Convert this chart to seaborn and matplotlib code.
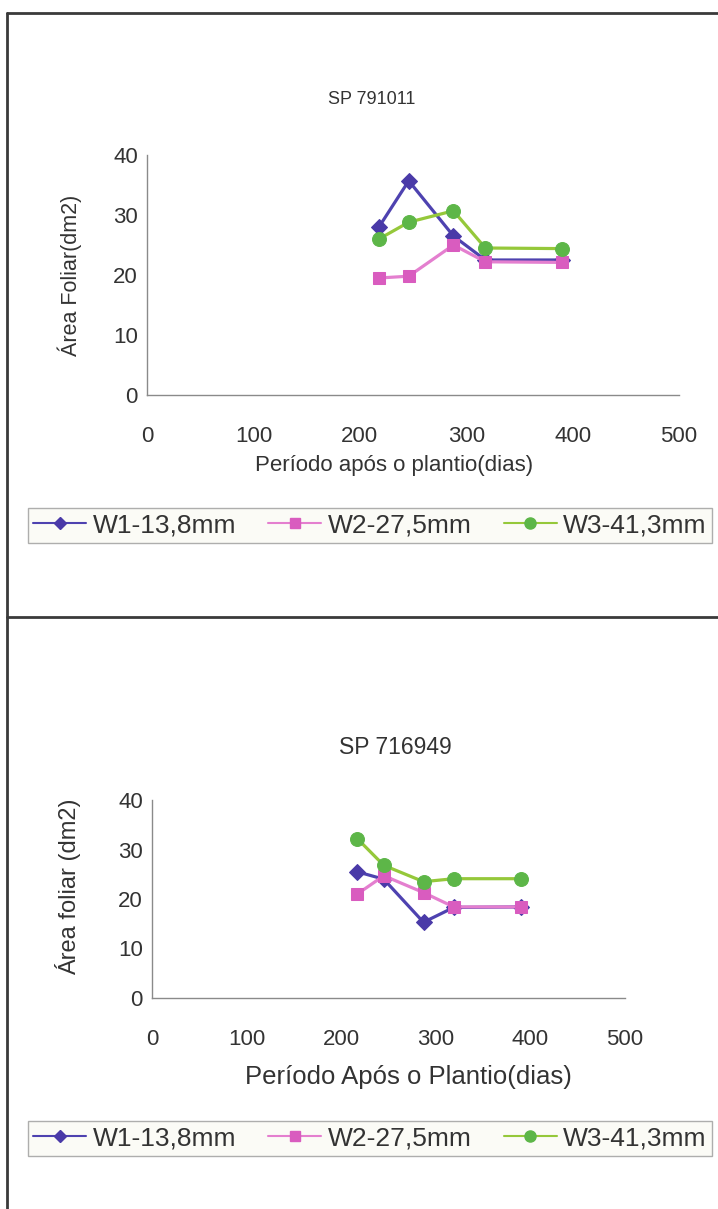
import matplotlib
matplotlib.use("Agg")
import matplotlib.pyplot as plt
import seaborn as sns
import pandas as pd
from matplotlib.lines import Line2D

# ---------------- data ----------------
series_names = ["W1-13,8mm", "W2-27,5mm", "W3-41,3mm"]

days_791011 = [218, 246, 288, 318, 390]
w1_791011 = [28.0, 35.7, 26.5, 22.5, 22.5]
w2_791011 = [19.5, 19.8, 25.0, 22.2, 22.1]
w3_791011 = [26.0, 28.8, 30.7, 24.5, 24.4]

days_716949 = [217, 245, 287, 319, 390]
w1_716949 = [25.5, 24.0, 15.3, 18.3, 18.4]
w2_716949 = [21.0, 24.7, 21.3, 18.4, 18.4]
w3_716949 = [32.2, 26.8, 23.5, 24.1, 24.1]

x_ticks = [0, 100, 200, 300, 400, 500]
y_ticks = [0, 10, 20, 30, 40]

# ---------------- style ----------------
sns.set_theme(style="white")
plt.rcParams["font.family"] = ["Liberation Sans", "DejaVu Sans"]

line_colors = {"W1-13,8mm": "#4e42b0", "W2-27,5mm": "#e47fcf", "W3-41,3mm": "#95c83a"}
marker_colors = {"W1-13,8mm": "#4a3aa8", "W2-27,5mm": "#d95cbf", "W3-41,3mm": "#5db648"}
markers = {"W1-13,8mm": "D", "W2-27,5mm": "s", "W3-41,3mm": "o"}
msizes = {"W1-13,8mm": 8.5, "W2-27,5mm": 9, "W3-41,3mm": 10}

W, H = 718, 1209
fig = plt.figure(figsize=(W / 100, H / 100), dpi=100)
fig.patch.set_facecolor("white")
TXT = "#333333"


def rect(l, t, r, b):
    return [l / W, 1 - b / H, (r - l) / W, (b - t) / H]


def make_df(days, w1, w2, w3):
    rows = []
    for name, vals in zip(series_names, [w1, w2, w3]):
        for d, v in zip(days, vals):
            rows.append({"Dias": d, "Area": v, "Serie": name})
    return pd.DataFrame(rows)


def draw_panel(ax, df, ylabel, xlabel, ylab_pos, xlab_pos, ylab_fs, xlab_fs):
    for name in series_names:
        sub = df[df["Serie"] == name]
        sns.lineplot(data=sub, x="Dias", y="Area", ax=ax, color=line_colors[name],
                     linewidth=2.3, marker=markers[name], markersize=msizes[name],
                     markerfacecolor=marker_colors[name], markeredgecolor=marker_colors[name],
                     legend=False, sort=False)
    ax.set_xlim(0, 500)
    ax.set_ylim(0, 40)
    ax.set_xticks(x_ticks)
    ax.set_yticks(y_ticks)
    sns.despine(ax=ax)
    for s in ["left", "bottom"]:
        ax.spines[s].set_color("#8a8a8a")
        ax.spines[s].set_linewidth(1.0)
    ax.tick_params(axis="both", direction="out", length=4, width=1, color="#8a8a8a",
                   labelsize=16, labelcolor=TXT)
    ax.tick_params(axis="x", pad=18)
    ax.tick_params(axis="y", pad=2.5)
    ax.set_ylabel(ylabel, fontsize=ylab_fs, color=TXT)
    ax.set_xlabel(xlabel, fontsize=xlab_fs, color=TXT)
    ax.yaxis.set_label_coords(*ylab_pos)
    ax.xaxis.set_label_coords(*xlab_pos)
    ax.yaxis.label.set_va("center")
    ax.yaxis.label.set_ha("center")
    ax.xaxis.label.set_va("center")
    ax.xaxis.label.set_ha("center")
    ax.grid(False)


def add_legend(l, t, r, b):
    handles = [Line2D([0], [0], color=line_colors[n], lw=1.5, marker=markers[n],
                      markersize=msizes[n] - 2, markerfacecolor=marker_colors[n],
                      markeredgecolor=marker_colors[n]) for n in series_names]
    leg = fig.legend(handles, series_names, loc="lower left",
                     bbox_to_anchor=(l / W, 1 - b / H, (r - l) / W, (b - t) / H),
                     mode="expand", ncol=3, frameon=True, fancybox=False, fontsize=19,
                     handlelength=2.0, handletextpad=0.25, borderaxespad=0, borderpad=0.2,
                     columnspacing=0.5)
    leg.get_frame().set_edgecolor("#9a9a9a")
    leg.get_frame().set_facecolor("#fbfbf4")
    leg.get_frame().set_linewidth(1.0)
    for t in leg.get_texts():
        t.set_color(TXT)


# top panel
ax1 = fig.add_axes(rect(147, 155, 679, 395))
df1 = make_df(days_791011, w1_791011, w2_791011, w3_791011)
draw_panel(ax1, df1, "Área Foliar(dm2)", "Período após o plantio(dias)",
           ((70 - 147) / 532, (395 - 275) / 240), ((394 - 147) / 532, (395 - 466) / 240), 15.5, 16)
fig.text(372 / W, 1 - 100 / H, "SP 791011", ha="center", va="center", fontsize=13, color=TXT)
add_legend(28, 503, 712, 543)

# bottom panel
ax2 = fig.add_axes(rect(152, 800, 625, 998))
df2 = make_df(days_716949, w1_716949, w2_716949, w3_716949)
draw_panel(ax2, df2, "Área foliar (dm2)", "Período Após o Plantio(dias)",
           ((68 - 152) / 473, (998 - 887) / 198), ((408 - 152) / 473, (998 - 1077) / 198), 17, 18.5)
fig.text(395 / W, 1 - 748 / H, "SP 716949", ha="center", va="center", fontsize=16.5, color=TXT)
add_legend(28, 1113, 712, 1156)

# panel borders
for line in [
    Line2D([7 / W, 7 / W], [0, 1 - 13 / H]),
    Line2D([7 / W, 1], [1 - 13 / H, 1 - 13 / H]),
    Line2D([7 / W, 1], [1 - 617 / H, 1 - 617 / H]),
]:
    line.set_transform(fig.transFigure)
    line.set_color("#3a3a3a")
    line.set_linewidth(2.0)
    fig.add_artist(line)

fig.savefig("out.png", dpi=100)
